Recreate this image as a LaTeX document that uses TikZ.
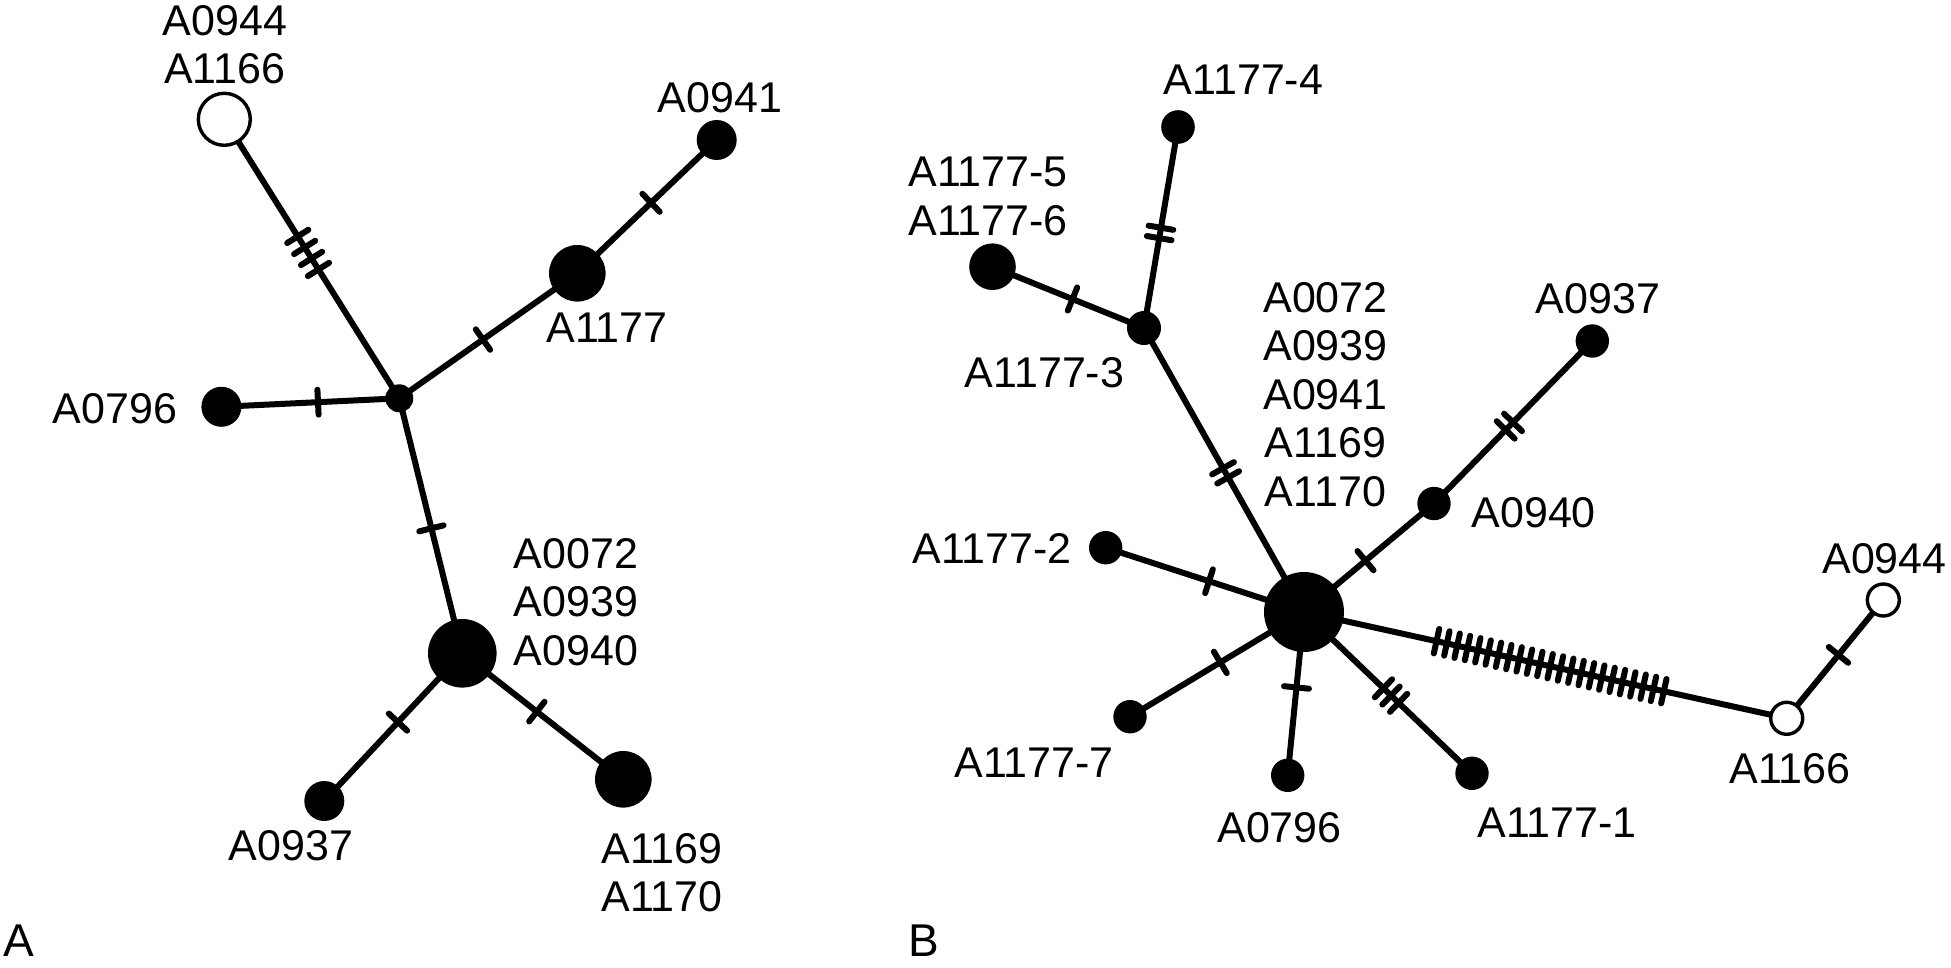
\documentclass[tikz,border=0pt]{standalone}
\usepackage{fontspec}
\setmainfont{Liberation Sans}
\usetikzlibrary{decorations.markings,backgrounds}
\begin{document}
\begin{tikzpicture}[x=1pt,y=-1pt,
  dotnode/.style={circle,fill=black,draw=none,inner sep=0pt,minimum size=#1pt},
  opennode/.style={circle,fill=white,draw=black,line width=3.4pt,inner sep=0pt,minimum size=#1pt},
  lbl/.style={inner sep=0pt,font=\fontsize{43}{48.5}\selectfont,align=center,anchor=north},
  panel/.style={inner sep=0pt,font=\fontsize{46}{52}\selectfont,anchor=north west},
  link/.style={line width=6pt},
  hatchline/.style={line width=6pt,line cap=round},
  mut/.style n args={3}{postaction={decorate,decoration={markings,mark=at position #1 with {\foreach \k in {1,...,#2}{\pgfmathsetmacro\hx{(\k-(#2+1)/2)*#3}\draw[hatchline] (\hx pt,-12.5pt) -- (\hx pt,12.5pt);}}}}}
]
\useasboundingbox (0,0) rectangle (1951,968);

% ---------- Panel A nodes ----------
\node[opennode=52] (oA) at (224.3,119.3) {};
\node[dotnode=28] (jA) at (399.3,398.3) {};
\node[dotnode=56.6] (a1177) at (577.3,273.3) {};
\node[dotnode=40] (a0941) at (716.7,140) {};
\node[dotnode=40] (a0796) at (221.4,406.8) {};
\node[dotnode=68.6] (cA) at (462.3,653.3) {};
\node[dotnode=40] (a0937) at (324.3,801) {};
\node[dotnode=56.6] (a1169) at (623.3,779.3) {};

\node[lbl] (LoA) at (224.8,5) {A0944\\A1166};
\node[lbl] (La0941) at (720,82) {A0941};
\node[lbl] (La1177) at (607,313) {A1177};
\node[lbl] (La0796) at (115,393) {A0796};
\node[lbl] (LcA) at (576,538) {A0072\\A0939\\A0940};
\node[lbl] (La0937) at (291,830) {A0937};
\node[lbl] (La1169) at (662,833) {A1169\\A1170};
\node[panel] (PA) at (3,925) {A};

% ---------- Panel B nodes ----------
\node[dotnode=80] (cB) at (1304,612) {};
\node[dotnode=33.6] (b4) at (1178,127) {};
\node[dotnode=46.6] (b56) at (992.5,266.7) {};
\node[dotnode=34] (b3) at (1144,328) {};
\node[dotnode=33.4] (b0937) at (1592.3,341) {};
\node[dotnode=33.4] (b0940) at (1434,503.5) {};
\node[dotnode=33.4] (b2) at (1105.7,547.7) {};
\node[dotnode=33.4] (b7) at (1130,716.7) {};
\node[dotnode=33.4] (b0796) at (1287.7,775.3) {};
\node[dotnode=33.4] (b1) at (1472,773.3) {};
\node[opennode=32] (b1166) at (1786.7,718.3) {};
\node[opennode=32] (b0944) at (1883.3,600) {};

\node[lbl] (Lb4) at (1243.5,65) {A1177-4};
\node[lbl] (Lb56) at (988,157) {A1177-5\\A1177-6};
\node[lbl] (Lb3) at (1044.5,357) {A1177-3};
\node[lbl] (LcB) at (1325.5,282) {A0072\\A0939\\A0941\\A1169\\A1170};
\node[lbl] (Lb0937) at (1598,283) {A0937};
\node[lbl] (Lb0940) at (1533.7,497) {A0940};
\node[lbl,anchor=north east] (Lb2) at (1072,533) {A1177-2};
\node[lbl] (Lb7) at (1034,748) {A1177-7};
\node[lbl] (Lb0796) at (1279.5,812) {A0796};
\node[lbl] (Lb1) at (1557,808) {A1177-1};
\node[lbl] (Lb1166) at (1790,753) {A1166};
\node[lbl] (Lb0944) at (1884.5,543) {A0944};
\node[panel] (PB) at (908,925) {B};

\begin{pgfonlayer}{background}
\fill[white] (0,0) rectangle (1951,968);
% Panel A edges
\draw[link,mut={0.479}{4}{13}] (oA.center) -- (jA.center);
\draw[link,mut={0.470}{1}{0}] (jA.center) -- (a1177.center);
\draw[link,mut={0.529}{1}{0}] (a1177.center) -- (a0941.center);
\draw[link,mut={0.543}{1}{0}] (a0796.center) -- (jA.center);
\draw[link,mut={0.510}{1}{0}] (jA.center) -- (cA.center);
\draw[link,mut={0.466}{1}{0}] (cA.center) -- (a0937.center);
\draw[link,mut={0.463}{1}{0}] (cA.center) -- (a1169.center);
% Panel B edges
\draw[link,mut={0.528}{1}{0}] (b56.center) -- (b3.center);
\draw[link,mut={0.473}{2}{10.5}] (b3.center) -- (b4.center);
\draw[link,mut={0.510}{2}{10.5}] (b3.center) -- (cB.center);
\draw[link,mut={0.473}{1}{0}] (cB.center) -- (b0940.center);
\draw[link,mut={0.476}{2}{10.5}] (b0940.center) -- (b0937.center);
\draw[link,mut={0.521}{1}{0}] (b2.center) -- (cB.center);
\draw[link,mut={0.481}{1}{0}] (cB.center) -- (b7.center);
\draw[link,mut={0.462}{1}{0}] (cB.center) -- (b0796.center);
\draw[link,mut={0.518}{3}{10.5}] (cB.center) -- (b1.center);
\draw[link,mut={0.510}{23}{10.58}] (cB.center) -- (b1166.center);
\draw[link,mut={0.536}{1}{0}] (b1166.center) -- (b0944.center);
\end{pgfonlayer}
\end{tikzpicture}
\end{document}
